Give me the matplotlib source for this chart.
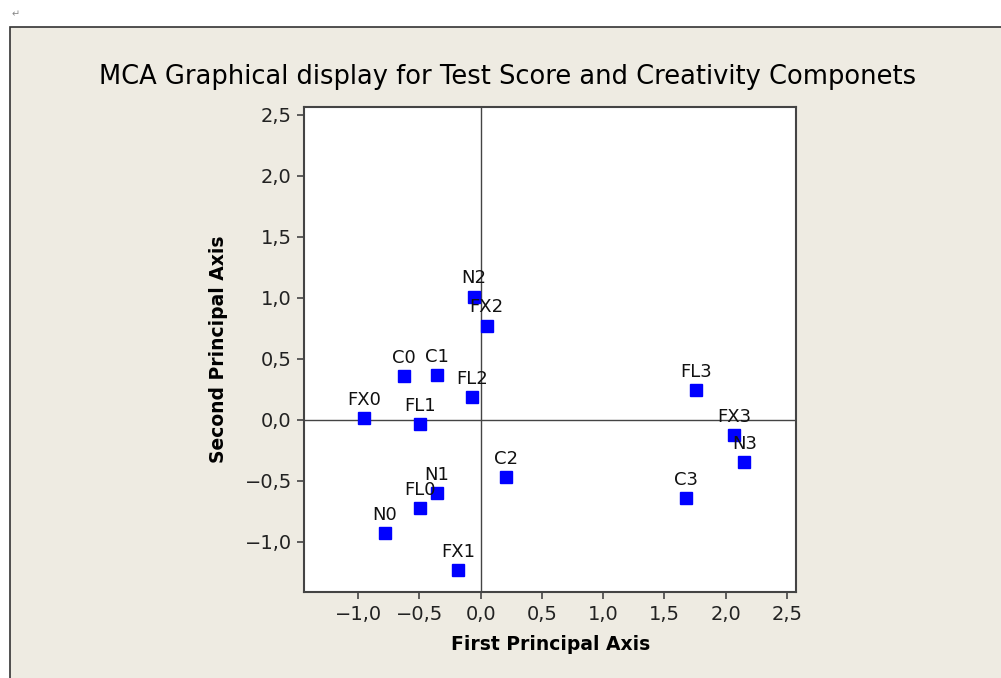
import matplotlib.pyplot as plt
from matplotlib.ticker import FuncFormatter
from matplotlib.patches import Rectangle

# category points
labels = ["N2", "FX2", "C0", "C1", "FL2", "FX0", "FL1", "C2", "N1", "FL0", "N0", "FX1",
          "FL3", "FX3", "N3", "C3"]
x_vals = [-0.055, 0.049, -0.626, -0.359, -0.069, -0.953, -0.496, 0.207, -0.359, -0.498,
          -0.781, -0.183, 1.755, 2.070, 2.152, 1.678]
y_vals = [1.011, 0.772, 0.357, 0.368, 0.185, 0.016, -0.033, -0.470, -0.600, -0.723,
          -0.930, -1.231, 0.245, -0.128, -0.347, -0.646]
ticks = [-1.0, -0.5, 0.0, 0.5, 1.0, 1.5, 2.0, 2.5]

# Colors
bg_color = "#eeebe2"
frame_color = "#444444"
marker_color = "#0000ff"

fig = plt.figure(figsize=(10.01, 6.78), dpi=100)
fig.patch.set_facecolor("white")

# beige panel with border on left/top
panel = Rectangle((10 / 1001, -0.01), 1.0, 1.01 - 27 / 678, transform=fig.transFigure,
                  facecolor=bg_color, edgecolor="#333333", linewidth=1.2, zorder=-5)
fig.patches.append(panel)
fig.text(12 / 1001, 1 - 14 / 678, "\u21b5", color="#888888", fontsize=7, va="center")

ax = fig.add_axes([304.3 / 1001, 1 - 592 / 678, (796 - 304.3) / 1001, (592 - 106.7) / 678])
ax.set_zorder(2)
ax.set_facecolor("white")

ax.axhline(0, color="#444444", linewidth=1.0, zorder=1)
ax.axvline(0, color="#444444", linewidth=1.0, zorder=1)

ax.plot(x_vals, y_vals, linestyle="none", marker="s", markersize=8,
        color=marker_color, zorder=3)
for lab, xv, yv in zip(labels, x_vals, y_vals):
    ax.annotate(lab, (xv, yv), xytext=(0, 9.5), textcoords="offset points",
                ha="center", va="baseline", fontsize=13, color="#111111", zorder=4)

ax.set_xlim(-1.44, 2.574)
ax.set_ylim(-1.413, 2.568)
ax.set_xticks(ticks)
ax.set_yticks(ticks)
fmt = FuncFormatter(lambda v, p: f"{v:.1f}".replace(".", ",").replace("-", "\u2212"))
ax.xaxis.set_major_formatter(fmt)
ax.yaxis.set_major_formatter(fmt)
ax.tick_params(direction="out", length=5, width=1.2, color=frame_color,
               labelsize=14, labelcolor="#222222", pad=4)
for s in ax.spines.values():
    s.set_color(frame_color)
    s.set_linewidth(1.5)

ax.set_xlabel("First Principal Axis", fontsize=13.5, fontweight="bold", labelpad=8)
ax.set_ylabel("Second Principal Axis", fontsize=13.5, fontweight="bold", labelpad=12)
fig.text(508 / 1001, 1 - 77 / 678, "MCA Graphical display for Test Score and Creativity Componets",
         ha="center", va="center", fontsize=18.5)

plt.savefig("out.png", dpi=100, facecolor=fig.get_facecolor())
